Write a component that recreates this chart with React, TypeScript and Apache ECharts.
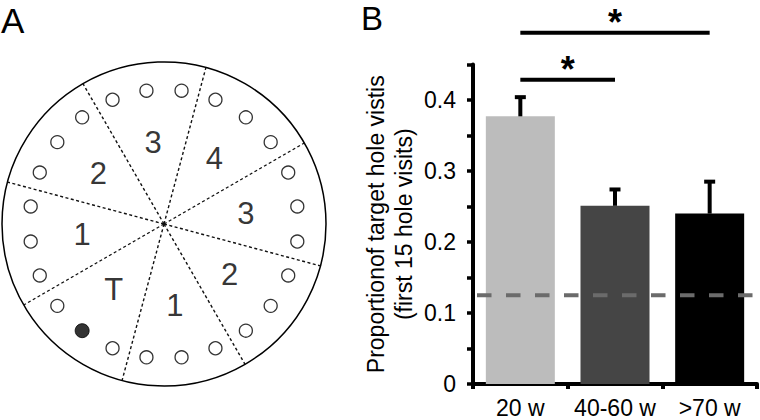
import React, { useEffect, useRef } from "react";
import * as echarts from "echarts";

// ---------- Panel A: maze layout (angles in degrees, counter-clockwise from 3 o'clock) ----------
const holeAngles = [
  7.5, 22.5, 37.5, 52.5, 67.5, 82.5, 97.5, 112.5, 127.5, 142.5, 157.5, 172.5,
  187.5, 202.5, 217.5, 232.5, 247.5, 262.5, 277.5, 292.5, 307.5, 322.5, 337.5, 352.5,
];
const targetHoleAngle = 232.5;
const sectorBoundaryAngles = [30, 75, 120, 165, 210, 255, 300, 345];
const sectorLabelAngles = [7.5, 52.5, 97.5, 142.5, 187.5, 232.5, 277.5, 322.5];
const sectorLabels = ["3", "4", "3", "2", "1", "T", "1", "2"];
const mazeRadius = 100;
const holeRing = 83;
const labelRing = 51;

// ---------- Panel B: bar chart ----------
const categories = ["20 w", "40-60 w", ">70 w"];
const means = [0.377, 0.251, 0.240];
const errorTops = [0.404, 0.274, 0.285];
const barColors = ["#bcbcbc", "#454545", "#000000"];
const chanceLevel = 0.125;
const sigPairs = [
  [0, 1, 0.4285],
  [0, 2, 0.4948],
];
const yTickValues = [0, 0.1, 0.2, 0.3, 0.4];

const FONT = '"Liberation Sans", Arial, Helvetica, sans-serif';

export default function App() {
  const ref = useRef<HTMLDivElement>(null);

  useEffect(() => {
    document.body.style.margin = "0";
    if (!ref.current) return;
    const chart = echarts.init(ref.current, null, { renderer: "svg" });

    const dashedSeries = sectorBoundaryAngles.map((a) => ({
      type: "line",
      coordinateSystem: "polar",
      polarIndex: 0,
      symbol: "none",
      silent: true,
      data: [
        [0, a],
        [mazeRadius, a],
      ],
      lineStyle: { color: "#111", width: 1.4, type: [3, 2.5] },
      z: 2,
    }));

    const option: any = {
      animation: false,
      backgroundColor: "#fff",
      textStyle: { fontFamily: FONT },
      title: [
        {
          text: "A",
          left: 1,
          top: 3,
          padding: 0,
          textStyle: { fontSize: 35, fontWeight: "normal", color: "#000", fontFamily: FONT },
        },
        {
          text: "B",
          left: 361,
          top: 2,
          padding: 0,
          textStyle: { fontSize: 33, fontWeight: "normal", color: "#000", fontFamily: FONT },
        },
      ],
      polar: { center: [164, 224], radius: 162 },
      angleAxis: {
        type: "value",
        min: 0,
        max: 360,
        startAngle: 0,
        clockwise: false,
        axisLine: { show: true, lineStyle: { color: "#000", width: 1.5 } },
        axisTick: { show: false },
        axisLabel: { show: false },
        splitLine: { show: false },
      },
      radiusAxis: {
        type: "value",
        min: 0,
        max: mazeRadius,
        axisLine: { show: false },
        axisTick: { show: false },
        axisLabel: { show: false },
        splitLine: { show: false },
      },
      grid: { left: 473, right: 3, top: 64.5, bottom: 36 },
      xAxis: {
        type: "category",
        data: categories,
        boundaryGap: true,
        axisLine: { lineStyle: { color: "#000", width: 4 } },
        axisTick: { show: true, length: 5, lineStyle: { color: "#000", width: 4 } },
        axisLabel: { color: "#000", fontSize: 23, margin: 12, interval: 0, fontFamily: FONT },
      },
      yAxis: {
        type: "value",
        min: 0,
        max: 0.45,
        interval: 0.05,
        axisLine: { show: true, lineStyle: { color: "#000", width: 4 } },
        axisTick: { show: true, length: 6, lineStyle: { color: "#000", width: 3.5 } },
        splitLine: { show: false },
        axisLabel: {
          color: "#000",
          fontSize: 23,
          margin: 17,
          fontFamily: FONT,
          formatter: (v: number) => {
            const hit = yTickValues.find((t) => Math.abs(t - v) < 1e-6);
            if (hit === undefined) return "";
            return hit === 0 ? "0" : hit.toFixed(1);
          },
        },
        name: "Proportionof target hole vistis\n(first 15 hole visits)",
        nameLocation: "middle",
        nameRotate: 90,
        nameGap: 55,
        nameTextStyle: { color: "#000", fontSize: 23, lineHeight: 28, fontFamily: FONT },
      },
      series: [
        ...dashedSeries,
        {
          type: "scatter",
          coordinateSystem: "polar",
          symbol: "circle",
          symbolSize: 13,
          silent: true,
          itemStyle: { color: "#fff", borderColor: "#000", borderWidth: 1.3 },
          data: holeAngles.filter((a) => a !== targetHoleAngle).map((a) => [holeRing, a]),
          z: 3,
        },
        {
          type: "scatter",
          coordinateSystem: "polar",
          symbol: "circle",
          symbolSize: 14,
          silent: true,
          itemStyle: { color: "#000", borderColor: "#000", borderWidth: 1 },
          data: [[holeRing, targetHoleAngle]],
          z: 3,
        },
        {
          type: "scatter",
          coordinateSystem: "polar",
          symbolSize: 1,
          silent: true,
          itemStyle: { color: "rgba(0,0,0,0)" },
          label: {
            show: true,
            position: "inside",
            formatter: "{b}",
            color: "#000",
            fontSize: 31,
            fontFamily: FONT,
          },
          data: sectorLabels.map((name, i) => ({ name, value: [labelRing, sectorLabelAngles[i]] })),
          z: 4,
        },
        {
          type: "bar",
          xAxisIndex: 0,
          yAxisIndex: 0,
          barWidth: 69,
          data: means.map((v, i) => ({ value: v, itemStyle: { color: barColors[i] } })),
          z: 2,
        },
        {
          type: "custom",
          xAxisIndex: 0,
          yAxisIndex: 0,
          silent: true,
          data: [[chanceLevel]],
          renderItem: (params: any, api: any) => {
            const cs = params.coordSys;
            const y = api.coord([0, api.value(0)])[1];
            return {
              type: "line",
              shape: { x1: cs.x + 4, y1: y, x2: cs.x + cs.width - 2, y2: y },
              style: { stroke: "#6b6b6b", lineWidth: 4, lineDash: [14.5, 14.5] },
              z2: 5,
            };
          },
          z: 5,
        },
        {
          type: "custom",
          xAxisIndex: 0,
          yAxisIndex: 0,
          silent: true,
          clip: false,
          encode: { x: 0, y: [1, 2] },
          data: means.map((m, i) => [i, m, errorTops[i]]),
          renderItem: (params: any, api: any) => {
            const base = api.coord([api.value(0), api.value(1)]);
            const top = api.coord([api.value(0), api.value(2)]);
            return {
              type: "group",
              children: [
                {
                  type: "line",
                  shape: { x1: base[0], y1: base[1], x2: top[0], y2: top[1] },
                  style: { stroke: "#000", lineWidth: 4 },
                },
                {
                  type: "line",
                  shape: { x1: top[0] - 5.5, y1: top[1], x2: top[0] + 5.5, y2: top[1] },
                  style: { stroke: "#000", lineWidth: 4 },
                },
              ],
            };
          },
          z: 6,
        },
        {
          type: "custom",
          xAxisIndex: 0,
          yAxisIndex: 0,
          silent: true,
          clip: false,
          encode: { x: [0, 1], y: 2 },
          data: sigPairs,
          renderItem: (params: any, api: any) => {
            const p1 = api.coord([api.value(0), api.value(2)]);
            const p2 = api.coord([api.value(1), api.value(2)]);
            const mid = (p1[0] + p2[0]) / 2;
            return {
              type: "group",
              children: [
                {
                  type: "line",
                  shape: { x1: p1[0], y1: p1[1], x2: p2[0], y2: p2[1] },
                  style: { stroke: "#000", lineWidth: 4 },
                },
                {
                  type: "text",
                  style: {
                    text: "*",
                    x: mid,
                    y: p1[1] - 10,
                    align: "center",
                    verticalAlign: "middle",
                    fontSize: 36,
                    fontWeight: "bold",
                    fontFamily: FONT,
                    fill: "#000",
                  },
                },
              ],
            };
          },
          z: 6,
        },
      ],
    };

    chart.setOption(option);
    return () => chart.dispose();
  }, []);

  return <div ref={ref} style={{ width: 760, height: 420 }} />;
}
